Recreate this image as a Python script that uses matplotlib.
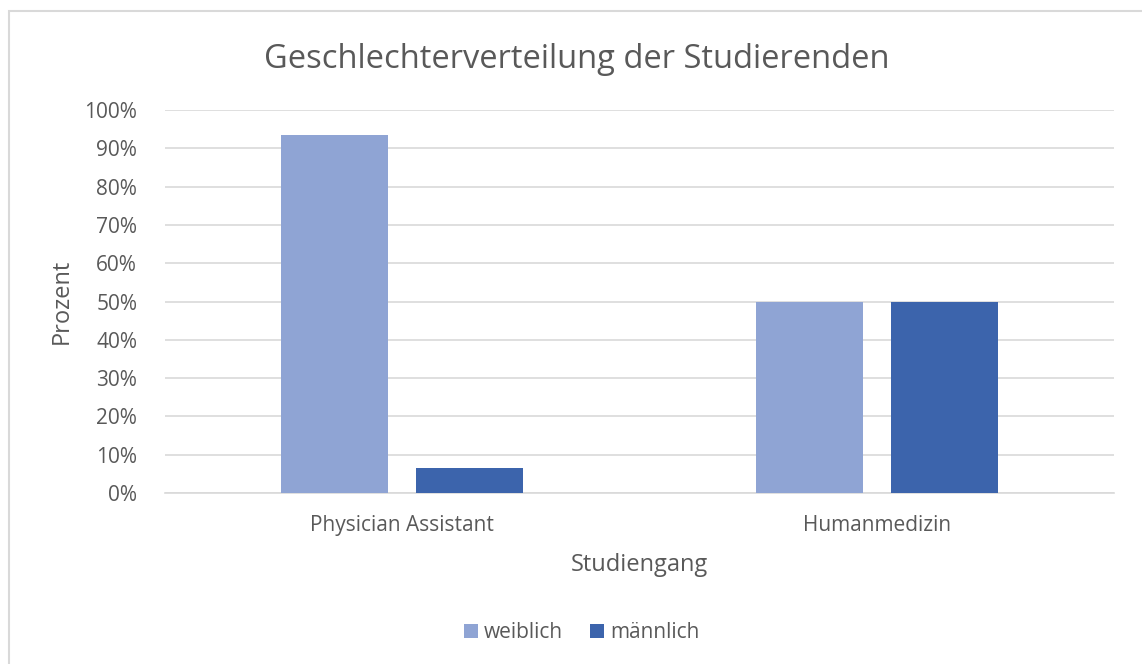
import numpy as np
import matplotlib.pyplot as plt
from matplotlib.patches import Rectangle
from matplotlib.ticker import PercentFormatter

# Daten
studiengaenge = ['Physician Assistant', 'Humanmedizin']
weiblich = [0.935, 0.50]
maennlich = [0.065, 0.50]

farbe_w = '#8FA4D4'
farbe_m = '#3C64AC'
text_farbe = '#595959'

plt.rcParams['font.family'] = ['Open Sans', 'DejaVu Sans']

fig = plt.figure(figsize=(11.42, 6.64), dpi=100)
# Rahmen des Diagramms
fig.patches.append(Rectangle((9 / 1142, -0.1), 1.2, 1 - 11 / 664 + 0.1,
                             transform=fig.transFigure, fill=False,
                             edgecolor='#D9D9D9', linewidth=1.5))

ax = fig.add_axes([165 / 1142, 1 - 493 / 664, (1114 - 165) / 1142, (493 - 110) / 664])

x = np.arange(len(studiengaenge))
breite = 0.225
abstand = 0.059
ax.bar(x - (breite + abstand) / 2, weiblich, breite, color=farbe_w, label='weiblich', zorder=3)
ax.bar(x + (breite + abstand) / 2, maennlich, breite, color=farbe_m, label='männlich', zorder=3)

ax.set_xlim(-0.5, 1.5)
ax.set_ylim(0, 1)
ax.set_yticks(np.arange(0, 1.01, 0.1))
ax.yaxis.set_major_formatter(PercentFormatter(1.0, decimals=0))
ax.set_xticks(x)
ax.set_xticklabels(studiengaenge)
ax.grid(axis='y', color='#D9D9D9', linewidth=1.2, zorder=0)
for s in ['top', 'right', 'left']:
    ax.spines[s].set_visible(False)
ax.spines['bottom'].set_color('#D9D9D9')
ax.spines['bottom'].set_linewidth(1.2)
ax.tick_params(length=0, labelsize=15, labelcolor=text_farbe)
ax.tick_params(axis='y', pad=20)
ax.tick_params(axis='x', pad=16)

ax.set_xlabel('Studiengang', fontsize=17, color=text_farbe, va='center')
ax.set_ylabel('Prozent', fontsize=17, color=text_farbe, va='center')
ax.xaxis.set_label_coords(0.5, (493 - 565) / 383)
ax.yaxis.set_label_coords((62 - 165) / 949, 0.5)

fig.text(577 / 1142, 1 - 59 / 664, 'Geschlechterverteilung der Studierenden',
         ha='center', va='center', fontsize=23.5, color=text_farbe)

fig.legend(loc='center', bbox_to_anchor=(582 / 1142, 1 - 633 / 664), ncol=2,
           frameon=False, fontsize=15, labelcolor=text_farbe,
           handlelength=0.65, handleheight=0.65, handletextpad=0.3, columnspacing=1.3)

fig.savefig('out.png', dpi=100)
